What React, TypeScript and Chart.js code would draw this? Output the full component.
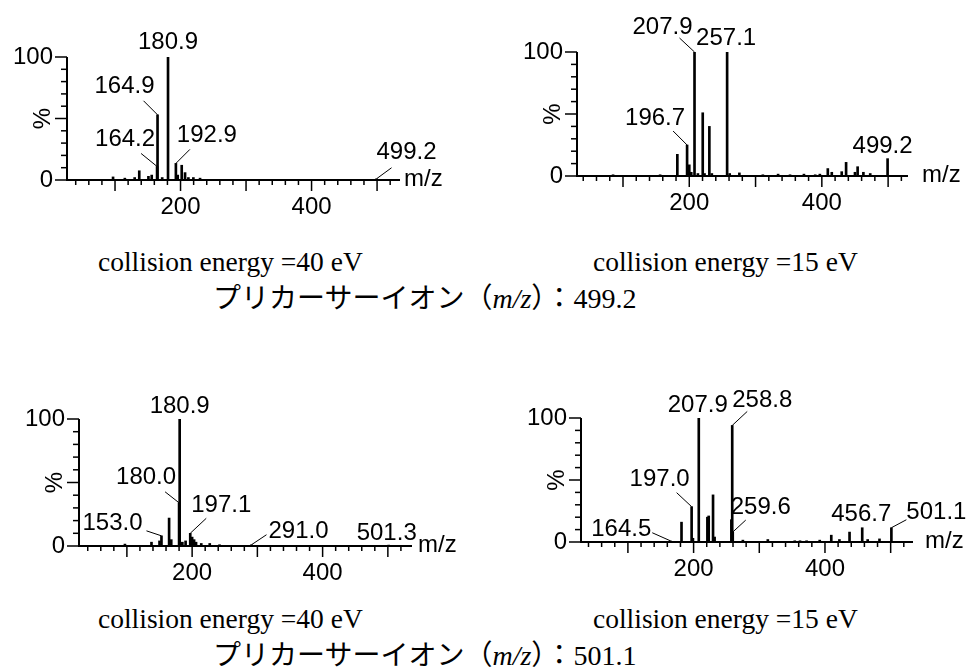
import React, { useEffect, useRef } from 'react';
import { Chart, registerables } from 'chart.js';

Chart.register(...registerables);

// ---------- data ----------
// Precursor 499.2, collision energy 40 eV
const A_MZ = [97, 115, 130, 137, 151, 156, 164.2, 164.9, 172, 180.9, 192.9, 195.7, 201.8, 206.9, 212, 219.6, 229.8, 499.2];
const A_INT = [2.5, 1.5, 2, 7.5, 3, 4, 11, 53, 2, 100, 13.5, 4, 12, 6, 2, 2, 1.5, 1];
const A_LABELS = [180.9, 164.9, 164.2, 192.9, 499.2];

// Precursor 499.2, collision energy 15 eV
const B_MZ = [85, 156, 182, 196.7, 200, 203, 207.9, 213, 220.3, 223, 230.3, 234, 257.1, 261, 275.6, 311, 334, 352, 373, 390, 397, 409, 415, 430, 436.6, 450, 454, 462.7, 473, 499.2];
const B_INT = [1, 1, 17.5, 25, 9, 3, 100, 2, 51, 2, 40, 2, 100, 2, 2.5, 1, 1.5, 1, 1.5, 1, 1.5, 6, 3, 3.5, 11, 3, 7.5, 3, 2, 14];
const B_LABELS = [207.9, 257.1, 196.7, 499.2];

// Precursor 501.1, collision energy 40 eV
const C_MZ = [97, 137.7, 150, 153.0, 164.7, 168, 180.0, 180.9, 185, 190, 197.1, 200, 203, 206, 214, 227, 242, 291.0, 501.3];
const C_INT = [1.5, 3, 4, 8, 22, 5, 34, 100, 3, 4, 10, 7, 5, 3, 2, 2, 1, 1, 0.7];
const C_LABELS = [180.9, 180.0, 197.1, 153.0, 291.0, 501.3];

// Precursor 501.1, collision energy 15 eV
const D_MZ = [164.5, 181.6, 197.0, 199, 207.9, 221, 223, 229.6, 232, 257.5, 258.8, 259.6, 275, 313, 354, 362, 372, 392, 409.6, 422, 437.4, 456.7, 465, 483, 501.1];
const D_INT = [1, 16, 28.5, 3, 100, 20, 21, 38, 4, 18, 94, 8, 1.5, 2, 1, 1, 1, 1.5, 5.5, 2, 8, 11.5, 2, 2.5, 11.5];
const D_LABELS = [207.9, 258.8, 197.0, 259.6, 164.5, 456.7, 501.1];

const X_TICK_LABELS = [200, 400];
const Y_TICK_LABELS = [0, 100];
const Y_TITLE = '%';
const X_TITLE = 'm/z';
const CE_HIGH = 'collision energy =40 eV';
const CE_LOW = 'collision energy =15 eV';
const PRECURSOR_1 = '499.2';
const PRECURSOR_2 = '501.1';

// ---------- layout (label offsets relative to peak top: [dx, dy, leaderStart|null]) ----------
const A_LABEL_LAYOUT: any[] = [[0, -15, null], [-33, -28, [-14, -14]], [-32, -27, [-16, -13]], [31, -28, [14, -14]], [30, -26, [15, -11]]];
const B_LABEL_LAYOUT: any[] = [[-32, -25, [-15, -14]], [-1, -14, null], [-32, -27, [-14, -14]], [-5, -12, null]];
const C_LABEL_LAYOUT: any[] = [[0, -13, null], [-33, -25, [-14, -11]], [31, -28, [16, -15]], [-49, -12, [-15, -5]], [47, -13, [15, -10]], [-2, -12, null]];
const D_LABEL_LAYOUT: any[] = [[-1, -13, null], [30, -25, [15, -14]], [-32, -27, [-15, -14]], [28, -25, [13, -12]], [-49, -11, [-18, -8]], [-1, -13, null], [45, -15, [15, -8]]];

const PANELS = [
  { mz: A_MZ, int: A_INT, labels: A_LABELS, layout: A_LABEL_LAYOUT, left: 0, top: 0, width: 480, height: 230, yW: 67, padTop: 57, padRight: 80, xH: 40, padBottom: 10, xMin: 26.7, xMax: 535, mzGap: 4 },
  { mz: B_MZ, int: B_INT, labels: B_LABELS, layout: B_LABEL_LAYOUT, left: 485, top: 0, width: 485, height: 230, yW: 92, padTop: 52, padRight: 62, xH: 40, padBottom: 14, xMin: 30.6, xMax: 530, mzGap: 14 },
  { mz: C_MZ, int: C_INT, labels: C_LABELS, layout: C_LABEL_LAYOUT, left: 0, top: 340, width: 480, height: 260, yW: 79, padTop: 79, padRight: 68, xH: 40, padBottom: 14, xMin: 26.6, xMax: 537, mzGap: 6 },
  { mz: D_MZ, int: D_INT, labels: D_LABELS, layout: D_LABEL_LAYOUT, left: 485, top: 340, width: 485, height: 260, yW: 96, padTop: 78, padRight: 57, xH: 40, padBottom: 18, xMin: 28.6, xMax: 534, mzGap: 12 },
];

const INK = '#000';
const SANS = '"Liberation Sans", Arial, sans-serif';
const FONT_PX = 24;

function makeDecor(p: any) {
  return {
    id: 'spectrumDecor',
    afterDatasetsDraw(chart: any) {
      const { ctx, chartArea: a, scales } = chart;
      const xs = scales.x;
      const ys = scales.y;
      ctx.save();
      ctx.strokeStyle = INK;
      ctx.fillStyle = INK;
      ctx.lineWidth = 2;
      ctx.beginPath();
      ctx.moveTo(a.left, ys.getPixelForValue(100));
      ctx.lineTo(a.left, a.bottom);
      ctx.lineTo(a.right, a.bottom);
      ctx.stroke();
      ctx.lineWidth = 1.5;
      for (let v = 0; v <= 100; v += 10) {
        const len = v % 50 === 0 ? 12 : 6;
        const py = ys.getPixelForValue(v);
        ctx.beginPath();
        ctx.moveTo(a.left - len, py);
        ctx.lineTo(a.left, py);
        ctx.stroke();
      }
      for (let v = 20; v <= 540; v += 20) {
        if (v < xs.min || v > xs.max) continue;
        const len = v % 100 === 0 ? 11 : 5;
        const px = xs.getPixelForValue(v);
        ctx.beginPath();
        ctx.moveTo(px, a.bottom);
        ctx.lineTo(px, a.bottom + len);
        ctx.stroke();
      }
      ctx.font = `${FONT_PX}px ${SANS}`;
      ctx.save();
      ctx.translate(a.left - 24, ys.getPixelForValue(50));
      ctx.rotate(-Math.PI / 2);
      ctx.textAlign = 'center';
      ctx.textBaseline = 'middle';
      ctx.fillText(Y_TITLE, 0, 0);
      ctx.restore();
      ctx.textAlign = 'left';
      ctx.textBaseline = 'middle';
      ctx.fillText(X_TITLE, a.right + p.mzGap, a.bottom - 1);
      ctx.textAlign = 'center';
      ctx.lineWidth = 1;
      p.labels.forEach((mz: number, i: number) => {
        const idx = p.mz.indexOf(mz);
        const inten = idx >= 0 ? p.int[idx] : 0;
        const px = xs.getPixelForValue(mz);
        const py = ys.getPixelForValue(inten);
        const [dx, dy, lead] = p.layout[i];
        ctx.fillText(mz.toFixed(1), px + dx, py + dy);
        if (lead) {
          ctx.beginPath();
          ctx.moveTo(px + lead[0], py + lead[1]);
          ctx.lineTo(px, py);
          ctx.stroke();
        }
      });
      ctx.restore();
    },
  };
}

function Spectrum({ p }: { p: any }) {
  const ref = useRef<HTMLCanvasElement | null>(null);
  useEffect(() => {
    if (!ref.current) return;
    const tickFont = { family: SANS, size: FONT_PX };
    const hidden = { display: true, color: 'rgba(0,0,0,0)', drawOnChartArea: false, drawTicks: true, offset: false };
    const chart = new Chart(ref.current, {
      type: 'bar',
      data: {
        datasets: [{
          data: p.mz.map((m: number, i: number) => ({ x: m, y: p.int[i] })),
          backgroundColor: INK,
          borderWidth: 0,
          barThickness: 2,
        }],
      },
      options: {
        animation: false,
        responsive: false,
        events: [],
        layout: { padding: { left: 0, top: p.padTop, right: p.padRight, bottom: p.padBottom } },
        plugins: { legend: { display: false }, tooltip: { enabled: false } },
        scales: {
          x: {
            type: 'linear',
            min: p.xMin,
            max: p.xMax,
            offset: false,
            grid: { ...hidden, tickLength: 11 },
            border: { display: false },
            ticks: { font: tickFont, color: INK, padding: 2, maxRotation: 0, autoSkip: false },
            afterBuildTicks: (s: any) => { s.ticks = X_TICK_LABELS.map((v) => ({ value: v })); },
            afterFit: (s: any) => { s.height = p.xH; },
          },
          y: {
            type: 'linear',
            min: 0,
            max: 100,
            grid: { ...hidden, tickLength: 12 },
            border: { display: false },
            ticks: { font: tickFont, color: INK, padding: 2 },
            afterBuildTicks: (s: any) => { s.ticks = Y_TICK_LABELS.map((v) => ({ value: v })); },
            afterFit: (s: any) => { s.width = p.yW; },
          },
        },
      } as any,
      plugins: [makeDecor(p)],
    });
    return () => chart.destroy();
  }, [p]);
  return (
    <canvas
      ref={ref}
      width={p.width}
      height={p.height}
      style={{ position: 'absolute', left: p.left, top: p.top, width: p.width, height: p.height }}
    />
  );
}

const SERIF = '"Liberation Serif", "Times New Roman", "Noto Sans CJK JP", serif';

function Caption({ text, left, cy, size }: { text: React.ReactNode; left: number; cy: number; size: number }) {
  return (
    <div style={{ position: 'absolute', left, top: cy - 15, height: 30, lineHeight: '30px', font: `${size}px ${SERIF}`, whiteSpace: 'nowrap', color: '#000' }}>
      {text}
    </div>
  );
}

function Precursor({ value }: { value: string }) {
  return (
    <span>
      プリカーサーイオン（<i>m/z</i>）：{value}
    </span>
  );
}

export default function App() {
  return (
    <div style={{ position: 'absolute', left: 0, top: 0, width: 970, height: 669, background: '#fff', overflow: 'hidden' }}>
      {PANELS.map((p, i) => <Spectrum key={i} p={p} />)}
      <Caption text={CE_HIGH} left={98} cy={261} size={27.5} />
      <Caption text={CE_LOW} left={593} cy={261} size={27.5} />
      <Caption text={<Precursor value={PRECURSOR_1} />} left={213} cy={291} size={28} />
      <Caption text={CE_HIGH} left={98} cy={618} size={27.5} />
      <Caption text={CE_LOW} left={593} cy={618} size={27.5} />
      <Caption text={<Precursor value={PRECURSOR_2} />} left={213} cy={648} size={28} />
    </div>
  );
}
